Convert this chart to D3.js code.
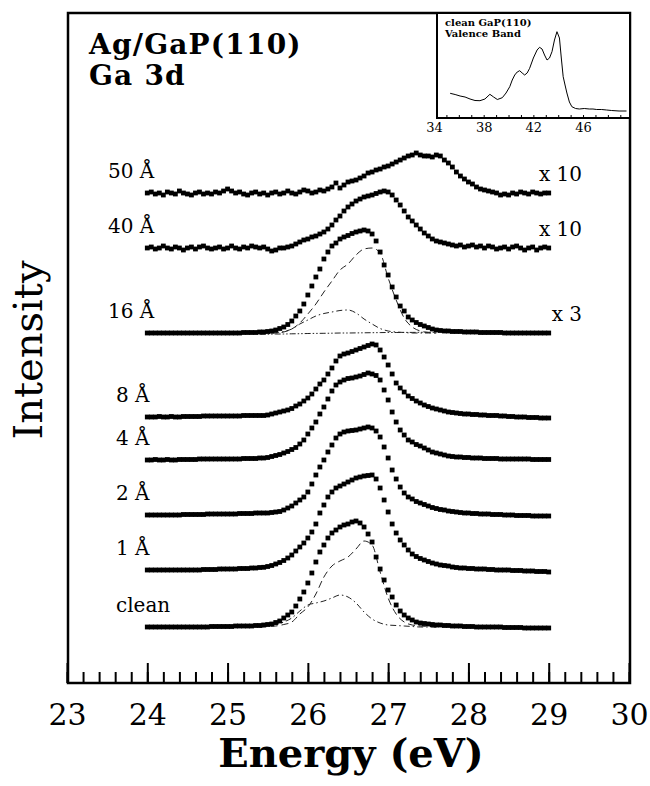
<!DOCTYPE html>
<html>
<head>
<meta charset="utf-8">
<script src="https://cdn.jsdelivr.net/npm/d3@7"></script>
<style>
  body { margin: 0; background: #fff; }
  svg { display: block; font-family: "DejaVu Serif", serif; }
</style>
</head>
<body>
<div id="chart"></div>
<script>
// energy grid of the Ga 3d spectra: 24 .. 29 eV, 0.05 eV steps
var energies = d3.range(101).map(function(i) { return +(24 + i * 0.05).toFixed(2); });

// intensities above each curve's own baseline (arbitrary units)
var clean = [0,0,0,0,0,0,0,0,0,0, 0,0,0,0,0,0,0.5,0.5,0.5,0.5, 0.5,0.5,1,1,1,1,1,1.5,1.5,2,
  2.5,3,4.5,6,9,12,15,21,28,35, 44,54,65,75,82,89,94,97,100,102, 103,105,106,104,100,93,85,70,58,47,
  37,30,22,16,12,9,7,5,4,3.5, 3,2.5,2,2,1.5,1.5,1,1,1,0.5, 0.5,0.5,0,0,0,0,0,0,0,-0.5,
  -0.5,-0.5,-0.5,-0.5,-1,-1,-1,-1,-1,-1, -1];
var a1 = [0,0,0,0,0,0,0,0,0,0, 0,0,0,0,0.5,0.5,0.5,0.5,1,1, 1,1,1,1.5,1.5,1.5,2,2,2.5,2.7,
  3.5,4.5,6,7.5,9.5,12,15,19,23,27, 32,38,46,57,65,73,78,82,84,86, 88,90,92,93,94,94.5,95,91,82,70,
  58,46,37,30,25,20,16,13.5,11.5,10, 8.5,7,6,5,4.5,4,3,2.5,2,2, 1.5,1.5,1,1,1,0.5,0.5,0,0,0,
  0,-0.5,-0.5,-0.5,-1,-1,-1,-1.5,-1.5,-1.5, -2];
var a2 = [0,0,0,0,0,0,0,0,0,0.5, 0.5,0.5,0.5,0.5,0.5,1,1,1,1,1, 1,1,1,1.5,1.5,1.5,1.5,2,2,2,
  2,2.5,3,3.5,5,7,9,12,15,18, 23,31,40,48,55,63,70,77,81,83, 84,84.5,85,86,87,88,87,84,78,68,
  57,45,36,28,22,18,16,13.5,12,10.5, 9,7.5,6.5,5.5,5,4,3.5,3,2.5,2, 2,1.5,1.5,1,1,1,0.5,0.5,0.5,0,
  0,0,-0.5,-0.5,-0.5,-0.5,-1,-1,-1,-1, -1];
var a4 = [0,0,0.5,0,0,0.5,0,0,0.5,0.5, 0.5,0.5,0.5,1,1,1,1,1,1,1, 1,1,1,1,1.5,1.5,1.5,1.5,2,2,
  2.5,3.5,4.5,5.5,7,8.5,10.5,12.5,16,20, 26,32,38,46,53,61,69,75,78,80, 81.5,82,83,84,85.5,87,86,84.5,80,70,
  60,48,38,30,25,20,18,15.5,14,12, 10,8,7,6,5,4,3.5,3,3,2.5, 2.5,2,2,2,1.5,1.5,1.5,1.5,1,1,
  1,1,1,1,1,1,0.5,0.5,0.5,0.5, 0.5];
var a8 = [0,0,0,0.5,0,0,0.5,0,0,0.5, 0.5,0.5,0.5,0.5,1,1,1,1,1,1, 1,1,1,1,1.5,1.5,1.5,1.5,1.5,1.5,
  2,3,4,5,6,7,8.5,11,13,16, 19,23,28,33,37,43,49,56,61,63, 64,65.5,67,68.5,70,71.5,73,72,67,60,
  52,43,34,29,25,21,18.5,16,14,12, 10.5,9,8,7,6,5,4.5,4,3.5,3, 3,2.5,2.5,2,2,1.5,1.5,1.5,1,1,
  0.5,0.5,0,0,0,-0.5,-0.5,-0.5,-1,-1, -1];
var a16 = [0,0,0,0,0,0,0,0,0,0, 0,0,0,0,0,0,0,0,0,0, 0,0,0,0,0.5,0.5,0.5,0.5,1,1,
  1.5,2,3,4.5,6,8.5,12,17,22,29, 38,47,56,64,74,81,87,90,94,96, 97.5,99.5,101,102,103,102,99,92,81,68,
  58,46,36,27,22,16,13,10.5,8.5,7, 5.5,4,3,2.5,2,2,1.5,1.5,1.5,1, 1,1,1,0.5,0.5,0.5,0.5,0.5,0.5,0,
  0,0,0,0,0,0,0,0,0,0, 0];
var a40 = [0,1,-1,0,2,0,-1,1,0,-2, 0,1,-1,1,2,0,-1,0,1,-1, 0,2,0,-1,1,0,2,1,0,1,
  -1,-3,-2,0,0,1,2,4,6,8, 9,11,12,14,16,19,23,28,32,37, 41,44,47,49,51,52,53,54.5,56,57,
  56,53,48,43,37,31,27,23,19,15, 12,9,7,6,5,4,3,2,3,1, 2,3,1,2,0,2,1,-1,0,1,
  -1,1,2,0,-2,0,1,-2,0,1, 0];
var a50 = [0,1,-1,0,-2,1,0,-1,2,0, -1,-2,0,1,-1,0,-1,1,0,2, 4,2,0,1,-1,-2,0,1,-1,0,
  -2,0,1,-1,0,2,0,-1,1,3, 2,0,1,3,2,4,6,10,5,8, 11,12,13,15,17,20,21,23,24,26,
  27,29,31,33,35,37,38,40,38,37, 37,36,38,37,33,30,26,21,17,14, 11,9,6,4,3,2,1,0,-2,-1,
  -2,0,-1,1,0,-1,1,0,-1,0, 0];

var labels  = ['clean', '1 Å', '2 Å', '4 Å', '8 Å', '16 Å', '40 Å', '50 Å'];
var factors = ['', '', '', '', '', 'x 3', 'x 10', 'x 10'];
var offsets = [56, 113, 168, 223, 266, 350, 435, 490];   // waterfall offsets
var series  = [clean, a1, a2, a4, a8, a16, a40, a50];

// fitted components (clean and 16 Å), 25.4 .. 27.6 eV
var compE = [25.4,25.5,25.6,25.7,25.8,25.9,26.0,26.1,26.2,26.3,26.4,26.5,26.6,26.7,26.8,26.9,27.0,27.1,27.2,27.3,27.4,27.5,27.6];
var cleanBulk = [0,0.5,1,2.5,5,13,20,33,50,61,66,70,78,86,82,55,29,13,5,2,1,0.5,0];
var cleanSurf = [0,1,2.5,5,9,16,22,24,26,29,32,30,24,15,8,4,2,1.5,1,0.5,0,0,0];
var bulk16 = [0,0,0,1,4,10,19,29,41,52,63,69,78,84,85,80,55,33,15,6,2,0.5,0];
var surf16 = [0,0,0.5,1.5,4,9,13,17,19.5,21,22.5,23,20,14,9,4.5,2,1,0.5,0,0,0,0];
var bg16 = [-1.3,-1.2,-1,-1,-0.8,-0.7,-0.5,-0.4,-0.3,-0.2,0,0,0.1,0.2,0.3,0.4,0.5,0.5,0.6,0.6,0.7,0.7,0.7];

// inset: clean GaP(110) valence band
var insetE = [35.3,35.7,36.1,36.5,36.9,37.3,37.7,38.1,38.5,38.8,39.1,39.5,39.8,40.1,40.3,40.5,40.7,40.9,41.1,41.3,
  41.5,41.7,42.0,42.3,42.5,42.7,42.9,43.1,43.3,43.5,43.7,43.9,44.1,44.25,44.4,44.55,44.7,44.9,45.1,45.4,
  45.7,46.1,46.5,46.8,47.1,47.5,47.9,48.3,48.9,49.5];
var insetI = [24.7,23.5,22,21,19,17.5,17.3,19,23.7,21,18.5,20.3,25,31.3,38,43,46,47.3,45,43,
  45,49.7,60,68,70.7,69,63,58,60,66.3,78,86.3,80,60,41.3,33,25,16,11.3,9.5,
  9,9.5,9,9,8.5,8.5,8,7.5,7,7];
var insetTicks = [34, 38, 42, 46];

var svg = d3.select('#chart').append('svg')
  .attr('width', 650)
  .attr('height', 786);

var x = d3.scaleLinear().domain([23, 30]).range([67, 629]);
var y = d3.scaleLinear().domain([0, 670]).range([683, 13]);

// frame
svg.append('rect')
  .attr('x', 68).attr('y', 13).attr('width', 562).attr('height', 670)
  .attr('fill', 'none').attr('stroke', '#000').attr('stroke-width', 2.5);

// minor + major ticks, pointing inward
svg.append('g')
  .attr('transform', 'translate(0,683)')
  .call(d3.axisBottom(x).tickValues(d3.range(23, 30.01, 0.2)).tickSize(-11).tickFormat(''))
  .call(function(g) { g.select('.domain').remove(); })
  .selectAll('line').attr('stroke-width', 2);

var xAxis = svg.append('g')
  .attr('transform', 'translate(0,683)')
  .call(d3.axisBottom(x).tickValues(d3.range(23, 31)).tickSize(-20).tickPadding(21).tickFormat(d3.format('d')));
xAxis.select('.domain').remove();
xAxis.selectAll('line').attr('stroke-width', 2);
xAxis.selectAll('text')
  .attr('font-family', '"DejaVu Serif", serif')
  .attr('font-size', 30)
  .attr('fill', '#000');

svg.append('text')
  .attr('x', 351).attr('y', 767)
  .attr('text-anchor', 'middle')
  .attr('font-size', 40).attr('font-weight', 'bold')
  .text('Energy (eV)');

svg.append('text')
  .attr('transform', 'translate(42,350) rotate(-90)')
  .attr('text-anchor', 'middle')
  .attr('font-size', 40)
  .text('Intensity');

svg.append('text').attr('x', 89).attr('y', 54)
  .attr('font-size', 28).attr('font-weight', 'bold').attr('letter-spacing', 1.2)
  .text('Ag/GaP(110)');
svg.append('text').attr('x', 89).attr('y', 85)
  .attr('font-size', 28).attr('font-weight', 'bold').attr('letter-spacing', 1.2)
  .text('Ga 3d');

// fit components
function compLine(off) {
  return d3.line()
    .x(function(d, i) { return x(compE[i]); })
    .y(function(d) { return y(d + off); })
    .curve(d3.curveMonotoneX);
}
var comps = [
  { v: cleanBulk, off: offsets[0], dash: '7,4' },
  { v: cleanSurf, off: offsets[0], dash: '6,3,1.5,3' },
  { v: bulk16, off: offsets[5], dash: '7,4' },
  { v: surf16, off: offsets[5], dash: '6,3,1.5,3' },
  { v: bg16, off: offsets[5], dash: '6,2,1.5,2,1.5,2' }
];
svg.append('g').selectAll('path')
  .data(comps)
  .enter().append('path')
    .attr('d', function(c) { return compLine(c.off)(c.v); })
    .attr('fill', 'none')
    .attr('stroke', '#222')
    .attr('stroke-width', 1)
    .attr('stroke-dasharray', function(c) { return c.dash; });

// spectra drawn as square markers
var groups = svg.append('g').selectAll('g.spec')
  .data(series)
  .enter().append('g')
    .attr('class', 'spec');

groups.selectAll('rect')
  .data(function(s, k) { return s.map(function(v, i) { return { e: energies[i], v: v + offsets[k] }; }); })
  .enter().append('rect')
    .attr('x', function(d) { return x(d.e) - 2.4; })
    .attr('y', function(d) { return y(d.v) - 2.4; })
    .attr('width', 4.8)
    .attr('height', 4.8)
    .attr('fill', '#000');

svg.append('g').selectAll('text')
  .data(labels)
  .enter().append('text')
    .attr('x', function(d) { return d.length > 3 && d !== 'clean' ? 108 : 116; })
    .attr('y', function(d, i) { return y(offsets[i] + 15); })
    .attr('font-size', 20)
    .text(function(d) { return d; });

svg.append('g').selectAll('text')
  .data(factors)
  .enter().append('text')
    .attr('x', 582)
    .attr('y', function(d, i) { return y(offsets[i] + 12); })
    .attr('text-anchor', 'end')
    .attr('font-size', 20)
    .text(function(d) { return d; });

// inset
var ix = d3.scaleLinear().domain([34, 49.7]).range([434, 629]);
var iy = d3.scaleLinear().domain([0, 105]).range([118, 13]);

svg.append('rect')
  .attr('x', 437).attr('y', 13).attr('width', 193).attr('height', 105)
  .attr('fill', '#fff').attr('stroke', '#000').attr('stroke-width', 2);

var iAxis = svg.append('g')
  .attr('transform', 'translate(0,118)')
  .call(d3.axisBottom(ix).tickValues(d3.range(35, 50)).tickSize(-3).tickFormat(''));
iAxis.select('.domain').remove();

var iLab = svg.append('g')
  .attr('transform', 'translate(0,118)')
  .call(d3.axisBottom(ix).tickValues(insetTicks).tickSize(0).tickPadding(5));
iLab.select('.domain').remove();
iLab.selectAll('text')
  .attr('font-family', '"DejaVu Serif", serif')
  .attr('font-size', 13)
  .attr('fill', '#000');

svg.append('path')
  .datum(insetI)
  .attr('d', d3.line()
    .x(function(d, i) { return ix(insetE[i]); })
    .y(function(d) { return iy(d); }))
  .attr('fill', 'none')
  .attr('stroke', '#000')
  .attr('stroke-width', 1);

svg.append('text').attr('x', 445).attr('y', 26)
  .attr('font-size', 10).attr('font-weight', 'bold').text('clean GaP(110)');
svg.append('text').attr('x', 445).attr('y', 37)
  .attr('font-size', 10).attr('font-weight', 'bold').text('Valence Band');
</script>
</body>
</html>
